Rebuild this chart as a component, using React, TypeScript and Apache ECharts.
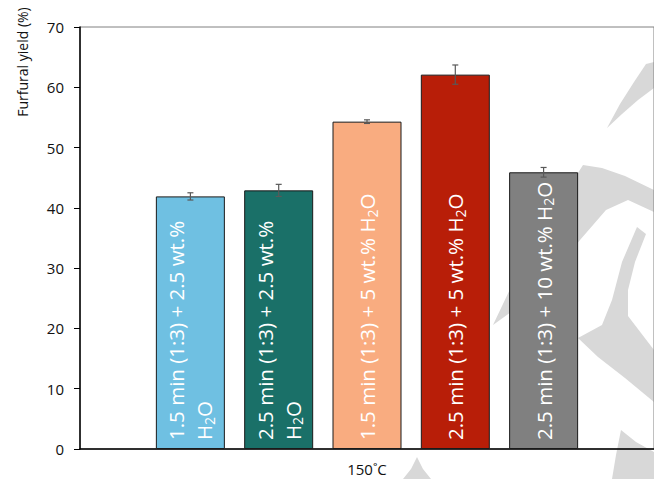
import React, { useEffect, useRef } from "react";
import * as echarts from "echarts";

const categories = ["150˚C"];
const seriesNames = [
  "1.5 min (1:3) + 2.5 wt.% H2O",
  "2.5 min (1:3) + 2.5 wt.% H2O",
  "1.5 min (1:3) + 5 wt.% H2O",
  "2.5 min (1:3) + 5 wt.% H2O",
  "2.5 min (1:3) + 10 wt.% H2O",
];
const labelTexts = [
  "1.5 min (1:3) + 2.5 wt.%\nH{s|2}O",
  "2.5 min (1:3) + 2.5 wt.%\nH{s|2}O",
  "1.5 min (1:3) + 5 wt.% H{s|2}O",
  "2.5 min (1:3) + 5 wt.% H{s|2}O",
  "2.5 min (1:3) + 10 wt.% H{s|2}O",
];
const yieldValues = [41.9, 42.9, 54.3, 62.1, 45.9];
const yieldErrors = [0.6, 1.0, 0.3, 1.6, 0.8];
const barColors = ["#6FC0E2", "#1A7068", "#F9AC80", "#B81E08", "#808080"];
const yTicks = { min: 0, max: 70, interval: 10 };

const BAR_W = 69;
const BAR_GAP = 19.3;

const wm = "#d8d8d8";
const watermarks: number[][][] = [
  [[607, 128], [620, 104], [634, 82], [646, 64], [654, 62], [654, 88], [638, 100], [622, 114]],
  [[583, 165], [602, 168], [625, 176], [654, 190], [654, 212], [628, 200], [606, 210], [580, 240], [555, 270], [528, 300], [493, 325], [512, 285], [538, 240], [562, 198]],
  [[637, 227], [646, 234], [635, 262], [628, 290], [628, 316], [654, 350], [654, 402], [625, 378], [598, 357], [578, 338], [602, 325], [612, 300], [622, 262]],
  [[621, 430], [636, 442], [654, 452], [654, 479], [612, 479], [616, 455]],
  [[417, 457], [423, 469], [431, 479], [403, 479], [411, 469]],
];

export default function App() {
  const ref = useRef<HTMLDivElement>(null);
  useEffect(() => {
    document.body.style.margin = "0";
    const chart = echarts.init(ref.current!, null, { renderer: "svg" });
    const font = "'Open Sans', 'Noto Sans', sans-serif";
    const barSeries = seriesNames.map((name, i) => ({
      name,
      type: "bar",
      data: [yieldValues[i]],
      barWidth: BAR_W,
      barGap: ((BAR_GAP / BAR_W) * 100).toFixed(1) + "%",
      itemStyle: { color: barColors[i], borderColor: "#1a1a1a", borderWidth: 1 },
      z: 2,
      label: {
        show: true,
        position: "insideBottom",
        rotate: 90,
        align: "left",
        verticalAlign: "middle",
        distance: 9,
        color: "#ffffff",
        fontSize: 20.5,
        fontFamily: font,
        lineHeight: 28,
        formatter: () => labelTexts[i],
        rich: {
          s: { fontSize: 14, fontFamily: font, color: "#ffffff", padding: [10, 0, 0, 0] },
        },
      },
    }));
    const errData = yieldValues.map((v, i) => [i, v, yieldErrors[i]]);
    const option: any = {
      animation: false,
      backgroundColor: "#ffffff",
      grid: { left: 80, top: 27, right: -2, bottom: 30, show: true, borderColor: "#808080", borderWidth: 1 },
      xAxis: {
        type: "category",
        data: categories,
        axisLine: { lineStyle: { color: "#000", width: 1.5 } },
        axisTick: { show: false },
        axisLabel: { color: "#111", fontSize: 15, fontFamily: font, margin: 12 },
      },
      yAxis: {
        type: "value",
        min: yTicks.min,
        max: yTicks.max,
        interval: yTicks.interval,
        axisLine: { show: true, lineStyle: { color: "#000", width: 1.5 } },
        axisTick: { show: true, length: 6, lineStyle: { color: "#000" } },
        splitLine: { show: false },
        axisLabel: { color: "#111", fontSize: 15, fontFamily: font, margin: 16 },
      },
      graphic: [
        ...watermarks.map((pts) => ({
          type: "polygon",
          z: -10,
          silent: true,
          shape: { points: pts },
          style: { fill: wm },
        })),
        {
          type: "text",
          x: 22,
          y: 62,
          rotation: Math.PI / 2,
          style: {
            text: "Furfural yield (%)",
            fontSize: 14,
            fontFamily: font,
            fill: "#111",
            textAlign: "center",
            textVerticalAlign: "middle",
          },
        },
      ],
      series: [
        ...barSeries,
        {
          type: "custom",
          z: 5,
          data: errData,
          renderItem: (params: any, api: any) => {
            const i = api.value(0);
            const v = api.value(1);
            const e = api.value(2);
            const top = api.coord([0, v + e]);
            const bot = api.coord([0, v - e]);
            const x = top[0] + (i - 2) * (BAR_W + BAR_GAP);
            const st = { stroke: "#595959", lineWidth: 1.2 };
            return {
              type: "group",
              children: [
                { type: "line", shape: { x1: x, y1: top[1], x2: x, y2: bot[1] }, style: st },
                { type: "line", shape: { x1: x - 3, y1: top[1], x2: x + 3, y2: top[1] }, style: st },
                { type: "line", shape: { x1: x - 3, y1: bot[1], x2: x + 3, y2: bot[1] }, style: st },
              ],
            };
          },
        },
      ],
    };
    chart.setOption(option);
    return () => chart.dispose();
  }, []);
  return <div ref={ref} style={{ width: 654, height: 479 }} />;
}
